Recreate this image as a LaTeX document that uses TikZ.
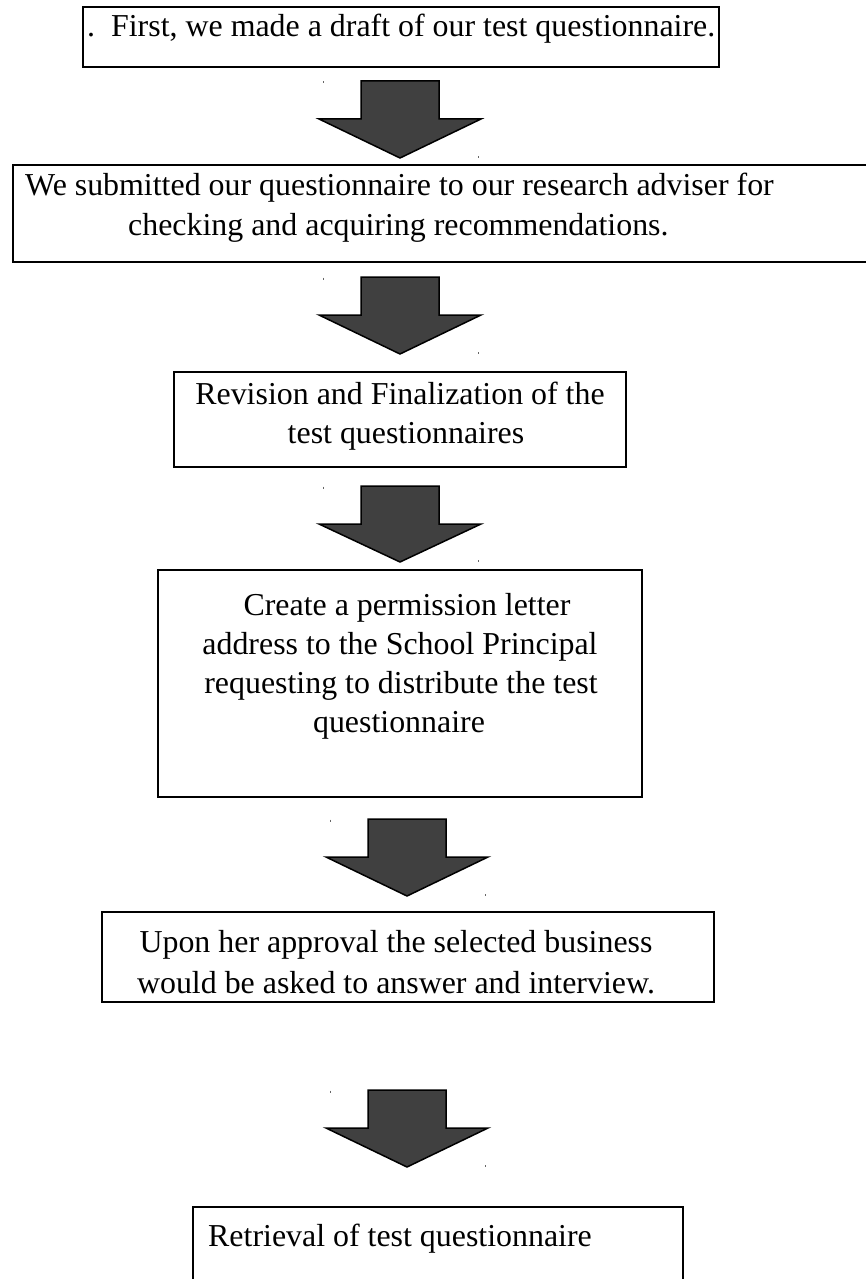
\documentclass[tikz,border=0pt]{standalone}
\usepackage{fontspec}
\setmainfont{Liberation Serif}
\definecolor{arrowgray}{HTML}{404040}
\newcommand\blockarrow[4]{% cx, top, shoulder, tip
  \draw[barrow] ({#1-39},#2) -- ({#1+39},#2) -- ({#1+39},#3) -- ({#1+81},#3)
    -- (#1,#4) -- ({#1-81},#3) -- ({#1-39},#3) -- cycle;
  \draw[mark line] ({#1-77},{#2+0.5}) -- ({#1-77},{#2+2.5});
  \draw[mark line] ({#1+78},{#4-2}) -- ({#1+78},{#4});
}
\begin{document}
\begin{tikzpicture}[x=1pt,y=-1pt,
  box/.style={draw=black, line width=2pt, inner sep=0pt},
  lbl/.style={anchor=base west, inner sep=0pt, font=\fontsize{31.9}{40}\selectfont},
  clbl/.style={anchor=base, inner sep=0pt, font=\fontsize{31.9}{40}\selectfont},
  barrow/.style={draw=black, line width=1.5pt, fill=arrowgray, line join=miter},
  mark line/.style={draw=black!60, line width=0.8pt}]
\clip (0,0) rectangle (866,1279);
\fill[white] (0,0) rectangle (866,1279);

% boxes
\draw[box] (83,7) rectangle (719,67);
\draw[box] (13,165) rectangle (872,262);
\draw[box] (174,372) rectangle (626,467);
\draw[box] (158,570) rectangle (642,797);
\draw[box] (102,912) rectangle (714,1002);
\draw[box] (193,1207) rectangle (683,1300);

% texts
\node[lbl] (t1) at (87,37) {.\ \ First, we made a draft of our test questionnaire.};
\node[lbl] (t2a) at (25,195) {We submitted our questionnaire to our research adviser for};
\node[lbl] (t2b) at (128,235) {checking and acquiring recommendations.};
\node[clbl] (t3a) at (400,404) {Revision and Finalization of the};
\node[clbl] (t3b) at (406,443) {test questionnaires};
\node[clbl] (t4a) at (407,615) {Create a permission letter};
\node[clbl] (t4b) at (400,654) {address to the School Principal};
\node[clbl] (t4c) at (401,693) {requesting to distribute the test};
\node[clbl] (t4d) at (399,732) {questionnaire};
\node[clbl] (t5a) at (396,952) {Upon her approval the selected business};
\node[clbl] (t5b) at (396,993) {would be asked to answer and interview.};
\node[lbl] (t6) at (208,1246) {Retrieval of test questionnaire};

% block arrows
\blockarrow{400}{81}{119}{158}
\blockarrow{400}{277}{315}{354}
\blockarrow{400}{486}{524}{562}
\blockarrow{407}{819}{857}{896}
\blockarrow{407}{1090}{1128}{1167}
\end{tikzpicture}
\end{document}
